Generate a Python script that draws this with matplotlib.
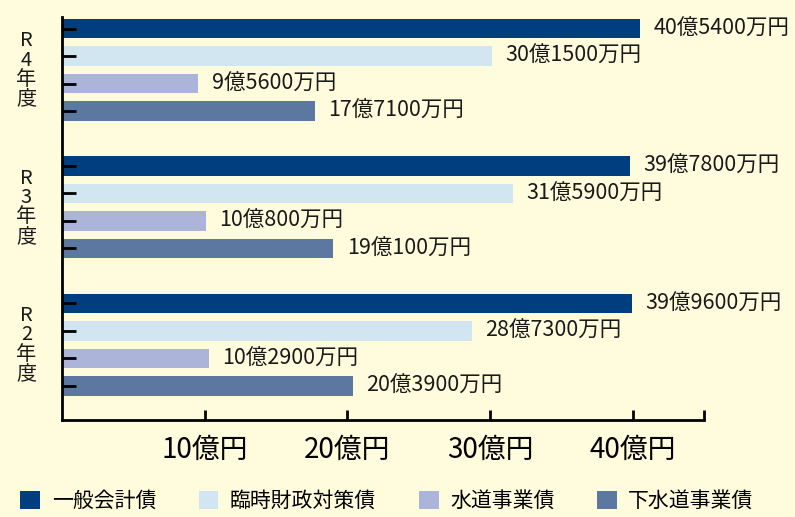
import matplotlib
matplotlib.use("Agg")
import matplotlib.pyplot as plt
from matplotlib.patches import Patch

plt.rcParams['font.family'] = ['Noto Sans CJK JP', 'DejaVu Sans']

years = ['R\n4\n年\n度', 'R\n3\n年\n度', 'R\n2\n年\n度']
series = ['一般会計債', '臨時財政対策債', '水道事業債', '下水道事業債']
colors = ['#003E80', '#D1E6F1', '#ADB4DA', '#5C77A0']
# 億円
values = {
    'R4': [40.54, 30.15, 9.56, 17.71],
    'R3': [39.78, 31.59, 10.08, 19.01],
    'R2': [39.96, 28.73, 10.29, 20.39],
}
labels = {
    'R4': ['40億5400万円', '30億1500万円', '9億5600万円', '17億7100万円'],
    'R3': ['39億7800万円', '31億5900万円', '10億800万円', '19億100万円'],
    'R2': ['39億9600万円', '28億7300万円', '10億2900万円', '20億3900万円'],
}
xticks = [10, 20, 30, 40]
xtick_labels = ['10億円', '20億円', '30億円', '40億円']

bg = '#FFFBDD'
fig = plt.figure(figsize=(7.95, 5.17), dpi=100, facecolor=bg)
ax = fig.add_axes([0.078, 0.1876, 0.8075, 0.7795])
ax.set_facecolor(bg)

ypos = []
for g, key in enumerate(['R4', 'R3', 'R2']):
    for i in range(4):
        y = g * 5 + i
        ypos.append(y)
        v = values[key][i]
        ax.barh(y, v, height=0.7, color=colors[i], zorder=1)
        ax.text(v + 0.95, y, labels[key][i], va='center', ha='left',
                fontsize=15.5, color='#1a1a1a')
    ax.text(-2.5, g * 5 + 1.5, years[g], ha='center', va='center',
            fontsize=14.5, linespacing=0.9, color='#1a1a1a')

ax.set_xlim(0, 45)
ax.set_ylim(14.24, -0.42)
ax.set_yticks(ypos)
ax.set_yticklabels([])
ax.set_xticks(xticks + [45])
ax.set_xticklabels(xtick_labels + [''], fontsize=20)
ax.tick_params(axis='y', direction='in', length=10, width=2, color='black')
ax.tick_params(axis='x', direction='in', length=7, width=2, color='black', pad=11)
for s in ['top', 'right']:
    ax.spines[s].set_visible(False)
for s in ['left', 'bottom']:
    ax.spines[s].set_linewidth(2)
    ax.spines[s].set_zorder(3)
for t in ax.yaxis.get_ticklines():
    t.set_zorder(3)

handles = [Patch(facecolor=c, edgecolor='none') for c in colors]
fig.legend(handles, series, loc='lower left', bbox_to_anchor=(0.002, -0.026),
           ncol=4, frameon=False, fontsize=15, handlelength=0.95, handleheight=0.95,
           columnspacing=2.05, handletextpad=0.55)

fig.savefig('out.png', dpi=100, facecolor=bg)
